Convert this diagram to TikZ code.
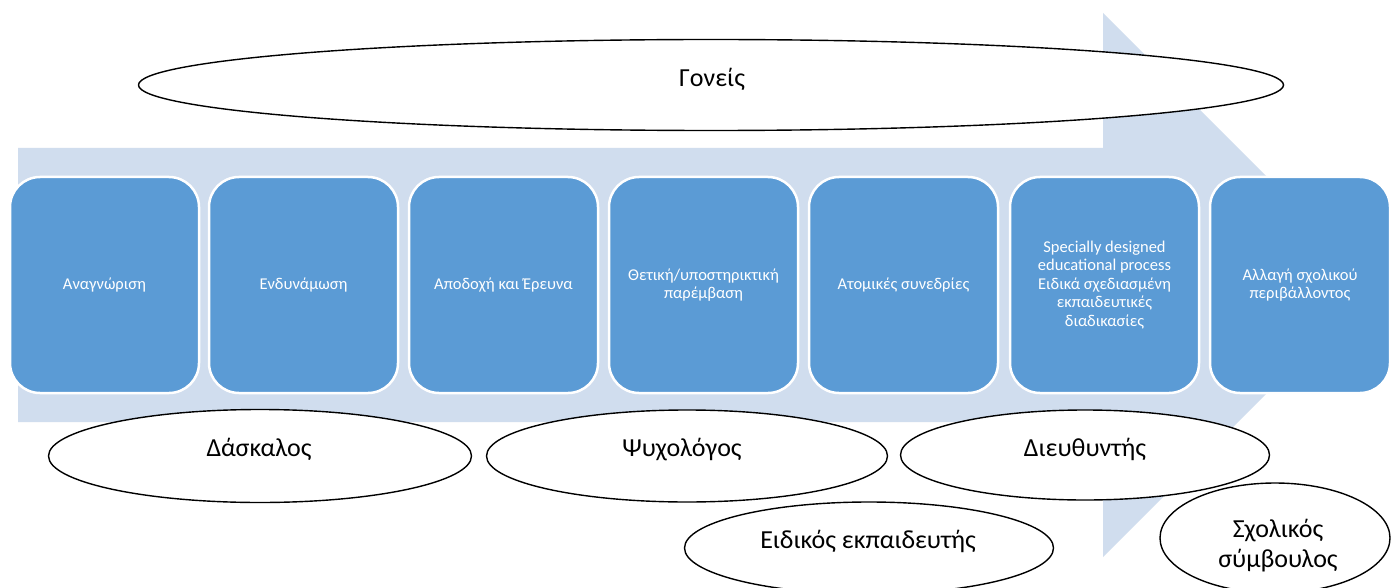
\documentclass[tikz,border=0pt]{standalone}
\usepackage{fontspec}
\setmainfont{Carlito}
\usetikzlibrary{shapes.geometric}
\definecolor{boxblue}{RGB}{91,155,213}
\definecolor{arrowblue}{RGB}{208,221,238}
\begin{document}
\begin{tikzpicture}[x=1pt,y=-1pt,
  stage/.style={draw=white, line width=2.5pt, fill=boxblue, rounded corners=30pt,
    minimum width=189pt, minimum height=216pt, text=white, align=center,
    font=\fontsize{16.5}{18.5}\selectfont, inner sep=0pt},
  role/.style={draw=black, line width=1.4pt, fill=white, ellipse, inner sep=0pt},
  rolelabel/.style={font=\fontsize{26}{30}\selectfont, align=center, inner sep=0pt}]
\clip (0,0) rectangle (1391,588);
\fill[white] (0,0) rectangle (1391,588);
% big background arrow
\fill[arrowblue] (18,148) -- (1103,148) -- (1103,13) -- (1375,285)
  -- (1103,557) -- (1103,422) -- (18,422) -- cycle;
% parents ellipse
\node[role, minimum width=1145pt, minimum height=91pt] (parents) at (711,85) {};
\node[rolelabel, anchor=base] (parentsT) at (712,87) {Γονείς};
% stages
\node[stage] (s1) at (104.5,285) {Αναγνώριση};
\node[stage] (s2) at (303.5,285) {Ενδυνάμωση};
\node[stage] (s3) at (503.5,285) {Αποδοχή και Έρευνα};
\node[stage] (s4) at (703.5,285) {Θετική/υποστηρικτική\\παρέμβαση};
\node[stage] (s5) at (903.5,285) {Ατομικές συνεδρίες};
\node[stage] (s6) at (1104.5,285) {Specially designed\\educational process\\Ειδικά σχεδιασμένη\\εκπαιδευτικές\\διαδικασίες};
\node[stage, minimum width=180pt] (s7) at (1300,285) {Αλλαγή σχολικού\\περιβάλλοντος};
% role ellipses
\node[role, minimum width=423pt, minimum height=93pt] (teacher) at (260,456) {};
\node[rolelabel, anchor=base] (teacherT) at (259,456) {Δάσκαλος};
\node[role, minimum width=401pt, minimum height=92pt] (psych) at (687,456) {};
\node[rolelabel, anchor=base] (psychT) at (682,456) {Ψυχολόγος};
\node[role, minimum width=369pt, minimum height=90pt] (director) at (1085,455) {};
\node[rolelabel, anchor=base] (directorT) at (1085,456) {Διευθυντής};
\node[role, minimum width=369pt, minimum height=92pt] (special) at (869,548) {};
\node[rolelabel, anchor=base] (specialT) at (868,548) {Ειδικός εκπαιδευτής};
\node[role, minimum width=230pt, minimum height=110pt] (counsel) at (1275,538) {};
\node[rolelabel] (counselT) at (1278,546) {Σχολικός\\σύμβουλος};
\end{tikzpicture}
\end{document}
